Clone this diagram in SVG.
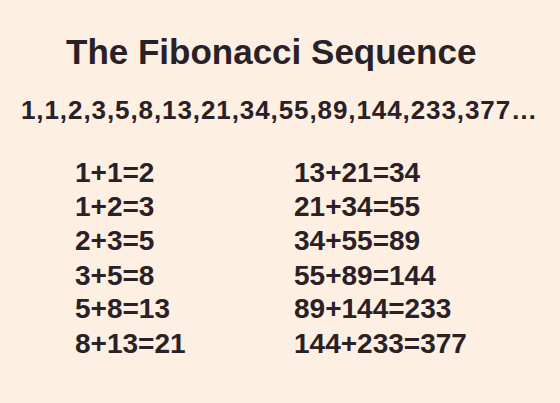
<svg xmlns="http://www.w3.org/2000/svg" width="560" height="403" viewBox="0 0 560 403">
<style>
text{font-family:"Liberation Sans",Arial,sans-serif;font-weight:bold;fill:#2a2127}
.eq{font-size:28px}
</style>
<rect width="560" height="403" fill="#fdf0e2"/>
<g id="title"><text x="66" y="64" font-size="35">The Fibonacci Sequence</text></g>
<g id="sequence"><text x="21" y="119" font-size="26" textLength="516">1,1,2,3,5,8,13,21,34,55,89,144,233,377…</text></g>
<g id="left">
<text class="eq" x="75" y="182">1+1=2</text>
<text class="eq" x="75" y="216">1+2=3</text>
<text class="eq" x="75" y="250">2+3=5</text>
<text class="eq" x="75" y="285">3+5=8</text>
<text class="eq" x="75" y="318">5+8=13</text>
<text class="eq" x="75" y="353">8+13=21</text>
</g>
<g id="right">
<text class="eq" x="294" y="182">13+21=34</text>
<text class="eq" x="294" y="216">21+34=55</text>
<text class="eq" x="294" y="250">34+55=89</text>
<text class="eq" x="294" y="285">55+89=144</text>
<text class="eq" x="294" y="318">89+144=233</text>
<text class="eq" x="294" y="353">144+233=377</text>
</g>
</svg>
